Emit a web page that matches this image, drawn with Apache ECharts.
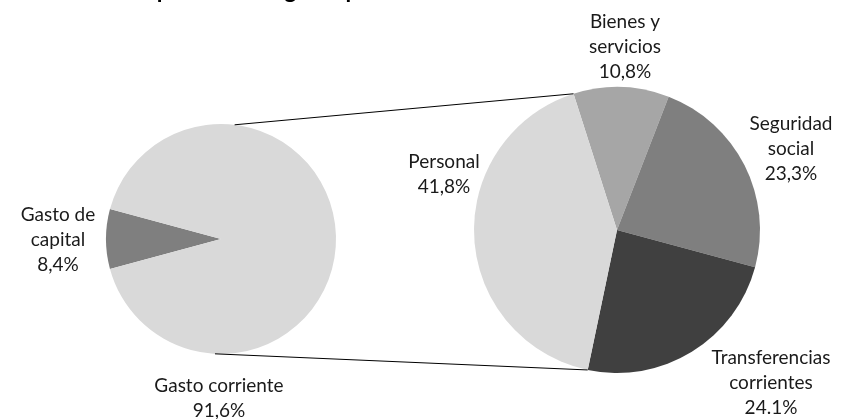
<!DOCTYPE html>
<html><head><meta charset="utf-8">
<script src="https://cdn.jsdelivr.net/npm/echarts@6/dist/echarts.min.js"></script>
<style>html,body{margin:0;padding:0;background:#fff}#c{width:845px;height:419px}</style>
</head><body><div id="c"></div>
<script>
// ---- data ----
const titleText = 'Gráfico 4. Composición del gasto primario del Gobierno Nacional Central 2019';
const leftNames = ['Gasto de\ncapital', 'Gasto corriente'];
const leftValues = [8.4, 91.6];
const leftLabels = ['8,4%', '91,6%'];
const rightNames = ['Bienes y\nservicios', 'Seguridad\nsocial', 'Transferencias\ncorrientes', 'Personal'];
const rightValues = [10.8, 23.3, 24.1, 41.8];
const rightLabels = ['10,8%', '23,3%', '24.1%', '41,8%'];

// ---- layout / style ----
const leftColors = ['#7f7f7f', '#d9d9d9'];
const rightColors = ['#a6a6a6', '#7f7f7f', '#404040', '#d9d9d9'];
const L = {cx: 221, cy: 239, r: 115};
const R = {cx: 617, cy: 230, r: 143};
const leftStart = 180 + leftValues[0] / 100 * 360 / 2;
const rightStart = 107.7;
const leftLabelPos = [[58, 240], [219, 398]];
const rightLabelPos = [[625, 47], [791, 149], [771, 383], [444, 174]];
const font = 'Lato, "Open Sans", sans-serif';

function pt(c, angDeg) {
  const a = angDeg * Math.PI / 180;
  return [c.cx + c.r * Math.cos(a), c.cy - c.r * Math.sin(a)];
}
const rightTotal = rightValues.reduce((a, b) => a + b, 0);
const personalStart = rightStart - 360 * (rightTotal - rightValues[3]) / rightTotal;
const topA = pt(L, 83.2), topB = pt(R, rightStart);
const botA = pt(L, -93), botB = pt(R, personalStart);

const chart = echarts.init(document.getElementById('c'), null, {renderer: 'canvas'});
const labelStyle = {
  show: true, position: 'outside', fontFamily: font, fontSize: 19, lineHeight: 25,
  color: '#1a1a1a', align: 'center', overflow: 'none'
};
chart.setOption({
  animation: false,
  title: {
    text: titleText, left: 0, top: -26,
    textStyle: {fontFamily: font, fontSize: 23, fontWeight: 'bold', color: '#000'}
  },
  series: [
    {
      type: 'pie', center: [L.cx, L.cy], radius: L.r, startAngle: leftStart, clockwise: true,
      data: leftNames.map((n, i) => ({name: n, value: leftValues[i], itemStyle: {color: leftColors[i]}})),
      label: Object.assign({}, labelStyle, {formatter: p => p.name + '\n' + leftLabels[p.dataIndex]}),
      labelLine: {show: false},
      labelLayout: p => ({x: leftLabelPos[p.dataIndex][0], y: leftLabelPos[p.dataIndex][1], align: 'center', verticalAlign: 'middle'}),
      itemStyle: {borderWidth: 0}, emphasis: {disabled: true}
    },
    {
      type: 'pie', center: [R.cx, R.cy], radius: R.r, startAngle: rightStart, clockwise: true,
      data: rightNames.map((n, i) => ({name: n, value: rightValues[i], itemStyle: {color: rightColors[i]}})),
      label: Object.assign({}, labelStyle, {formatter: p => p.name + '\n' + rightLabels[p.dataIndex]}),
      labelLine: {show: false},
      labelLayout: p => ({x: rightLabelPos[p.dataIndex][0], y: rightLabelPos[p.dataIndex][1], align: 'center', verticalAlign: 'middle'}),
      itemStyle: {borderWidth: 0}, emphasis: {disabled: true}
    }
  ],
  graphic: [
    {type: 'line', z: 100, shape: {x1: topA[0], y1: topA[1], x2: topB[0], y2: topB[1]}, style: {stroke: '#000', lineWidth: 1}},
    {type: 'line', z: 100, shape: {x1: botA[0], y1: botA[1], x2: botB[0], y2: botB[1]}, style: {stroke: '#000', lineWidth: 1}}
  ]
});
</script></body></html>
